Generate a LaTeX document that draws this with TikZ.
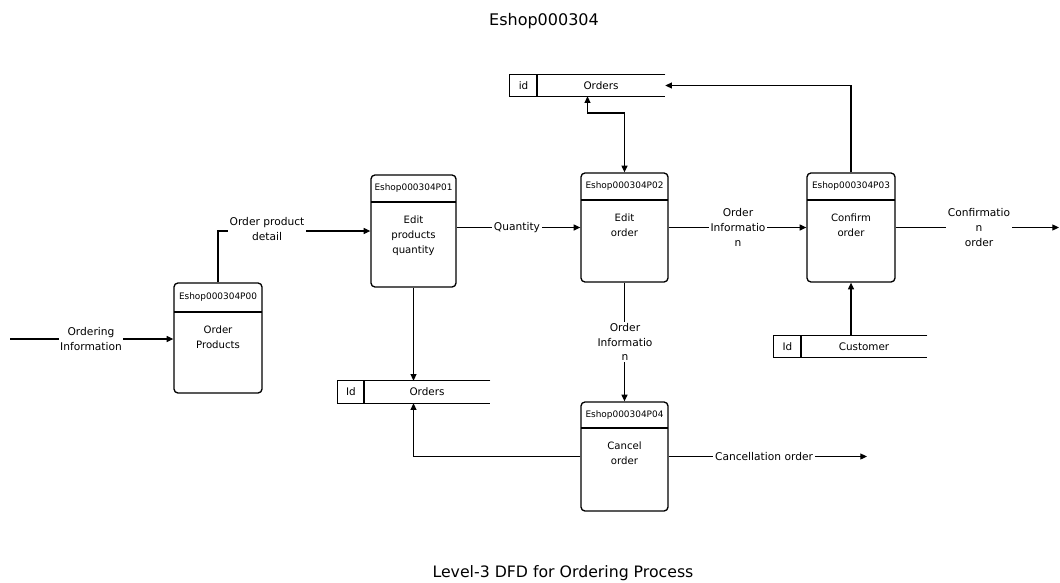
\documentclass[tikz,border=0pt]{standalone}
\usepackage{fontspec}
\setmainfont{DejaVu Sans}
\usetikzlibrary{arrows.meta,fit}
\newcommand\procbox[8]{%
  \node[proc, fit={(#2,#3)(#4,#5)}] (#1) {};
  \draw[hline] (#2,#6) -- (#4,#6);
  \node[hdr] (#1h) at ({(#2+#4)/2},{(#3+#6)/2}) {#7};
  \node[bodytxt] (#1b) at ({(#2+#4)/2},{#6+14}) {#8};
}
\newcommand\dstore[8]{%
  \node[fit={(#2,#3)(#4,#5)}, inner sep=0pt] (#1) {};
  \draw[sline] (#1.north east) -- (#1.north west) -- (#1.south west) -- (#1.south east);
  \draw[sline] (#6,#3) -- (#6,#5);
  \node[storetxt] (#1i) at ({(#2+#6)/2},{(#3+#5)/2}) {#7};
  \node[storetxt] (#1n) at ({(#6+#4)/2},{(#3+#5)/2}) {#8};
}
\begin{document}
\begin{tikzpicture}[x=0.75pt,y=-0.75pt,
  proc/.style={draw, line width=1pt, rounded corners=3pt, inner sep=0pt},
  hline/.style={line width=0.9pt},
  sline/.style={line width=0.9pt},
  hdr/.style={font=\fontsize{6.7}{8}\selectfont, inner sep=0pt},
  bodytxt/.style={font=\fontsize{7.6}{10.9}\selectfont, align=center, inner sep=0pt, anchor=north},
  storetxt/.style={font=\fontsize{7.8}{9}\selectfont, inner sep=0pt},
  lbl/.style={font=\fontsize{8}{11}\selectfont, align=center, fill=white, inner sep=1.2pt},
  flow/.style={line width=0.8pt, -{Triangle[length=5pt,width=4.5pt]}},
  dflow/.style={line width=0.8pt, {Triangle[length=5pt,width=4.5pt]}-{Triangle[length=5pt,width=4.5pt]}},
  ttl/.style={font=\fontsize{12}{14}\selectfont, anchor=base, inner sep=0pt}
]
\useasboundingbox (0,0) rectangle (1060,582);

% titles
\node[ttl] (title) at (544,25) {Eshop000304};
\node[ttl, font=\fontsize{11.8}{14}\selectfont] (caption) at (563,577) {Level-3 DFD for Ordering Process};

% processes
\procbox{P00}{174}{283}{262}{393}{312}{Eshop000304P00}{Order\\Products}
\procbox{P01}{371}{175}{456}{287}{202}{Eshop000304P01}{Edit\\products\\quantity}
\procbox{P02}{581}{173}{668}{282}{200}{Eshop000304P02}{Edit\\order}
\procbox{P03}{807}{173}{895}{282}{200}{Eshop000304P03}{Confirm\\order}
\procbox{P04}{581}{402}{668}{511}{428}{Eshop000304P04}{Cancel\\order}

% data stores
\dstore{O1}{510}{75}{665}{96}{537}{id}{Orders}
\dstore{O2}{338}{381}{490}{403}{364}{Id}{Orders}
\dstore{Cu}{774}{336}{927}{357}{801}{Id}{Customer}

% free ends
\coordinate (in0) at (10,339);
\coordinate (out3) at (1059,227.5);
\coordinate (out4) at (867,456.5);
\coordinate (k1) at (600,113);

% flows
\draw[flow] (in0) -- (P00.west |- in0);
\draw[flow] (P00.north) |- (P01.west);
\draw[flow] (P01.east |- P02.west) -- (P02.west);
\draw[flow] (P02.east) -- (P03.west);
\draw[flow] (P03.east) -- (out3);
\draw[dflow] (O1.south) |- (k1 -| P02.north) -- (P02.north);
\draw[flow] (P03.north) |- (O1.east);
\draw[flow] (P03.south |- Cu.north) -- (P03.south);
\draw[flow] (P01.south) -- (P01.south |- O2.north);
\draw[flow] (P02.south) -- (P04.north);
\draw[flow] (P04.west) -| (O2.south -| P01.south);
\draw[flow] (P04.east) -- (out4);

% flow labels
\node[lbl] (l0) at (91,339) {Ordering\\Information};
\node[lbl] (l1) at (267,229) {Order product\\detail};
\node[lbl] (l2) at (517,227.5) {Quantity};
\node[lbl] (l3) at (738,227.5) {Order\\Informatio\\n};
\node[lbl] (l4) at (979,227.5) {Confirmatio\\n\\order};
\node[lbl] (l5) at (625,342) {Order\\Informatio\\n};
\node[lbl] (l6) at (764,456.5) {Cancellation order};
\end{tikzpicture}
\end{document}
